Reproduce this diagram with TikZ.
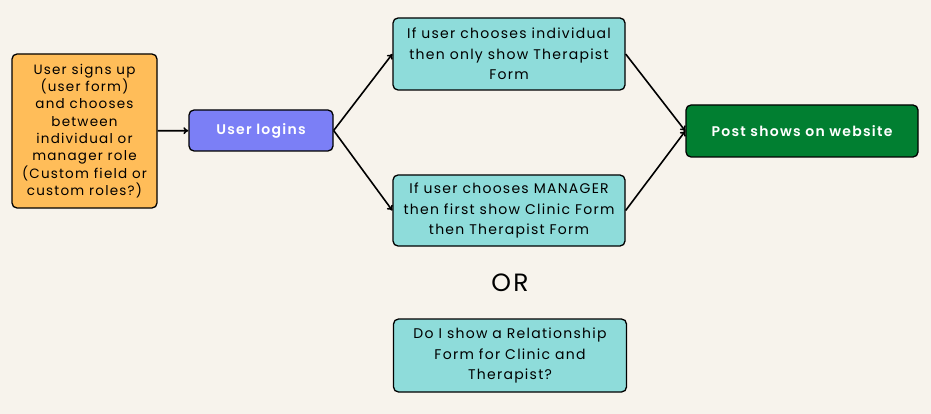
\documentclass[tikz,border=0pt]{standalone}
\usepackage{fontspec}
\setmainfont[LetterSpace=9,BoldFont={Poppins SemiBold}]{Poppins}
\usetikzlibrary{arrows.meta,positioning}
\definecolor{Paper}{HTML}{F7F3EC}
\definecolor{Apricot}{HTML}{FFBD59}
\definecolor{Periwinkle}{HTML}{7B7FF6}
\definecolor{Aqua}{HTML}{8EDCDA}
\definecolor{Forest}{HTML}{017F31}

\begin{document}
\begin{tikzpicture}[x=1pt,y=-1pt,
    card/.style={draw=black,line width=1.3pt,rounded corners=5pt,inner sep=0pt,align=center,
      font=\fontsize{14}{20.5}\selectfont},
    flow/.style={-{To[length=5pt,width=7pt]},line width=1.6pt}]
    \fill[Paper] (0,0) rectangle (931,414);
    \useasboundingbox (0,0) rectangle (931,414);

    \node[card,fill=Apricot,minimum width=145pt,minimum height=154pt,
      font=\fontsize{13.5}{17.3}\selectfont] (signup) at (84.5,131)
      {User signs up\\(user form)\\and chooses\\between\\individual or\\manager role\\(Custom field or\\custom roles?)};
    \node[card,fill=Periwinkle,minimum width=144pt,minimum height=41pt,text=white,
      font=\fontsize{14}{17}\selectfont\bfseries] (login) at (261,130.5) {User logins};

    \node[card,fill=Aqua,minimum width=232pt,minimum height=72pt] (single) at (509,54)
      {If user chooses individual\\then only show Therapist\\Form};
    \node[card,fill=Aqua,minimum width=232pt,minimum height=71pt] (manager) at (509,210.5)
      {If user chooses MANAGER\\then first show Clinic Form\\then Therapist Form};

    \node[card,fill=Forest,minimum width=232pt,minimum height=52pt,text=white,
      font=\fontsize{14}{17}\selectfont\bfseries] (post) at (802,131) {Post shows on website};

    \node[font=\fontsize{25}{28}\selectfont] (or) at (510,283) {OR};
    \node[card,fill=Aqua,minimum width=233pt,minimum height=73pt] (relation) at (510,355.5)
      {Do I show a Relationship\\Form for Clinic and\\Therapist?};

    \draw[flow] (signup) -- (login);
    \draw[flow] (login.east) -- (single.west);
    \draw[flow] (login.east) -- (manager.west);
    \draw[flow] (single.east) -- (post.west);
    \draw[flow] (manager.east) -- (post.west);
  \end{tikzpicture}
\end{document}
